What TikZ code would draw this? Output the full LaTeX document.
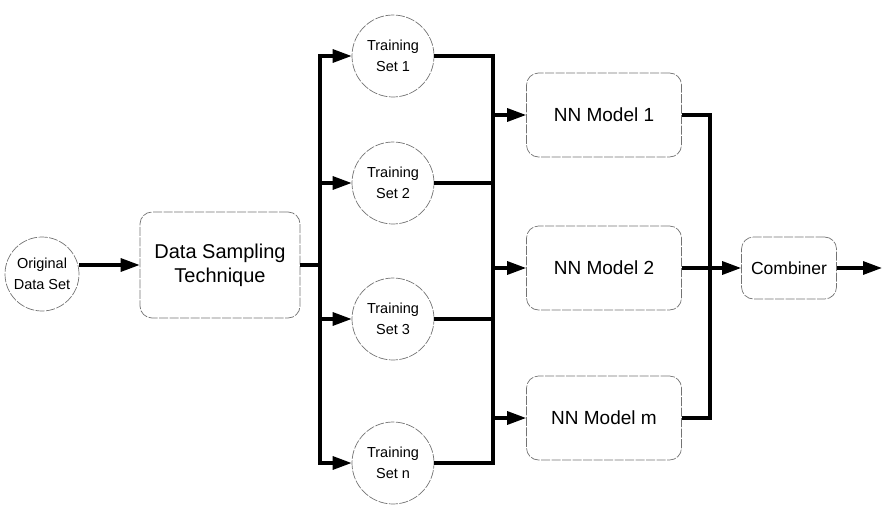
\documentclass[tikz,border=0pt]{standalone}
\usepackage{fontspec}
\setmainfont{Liberation Sans}
\usetikzlibrary{arrows.meta}
\begin{document}
\begin{tikzpicture}[x=1pt,y=-1pt,
  circ/.style={circle, draw=black!55, line width=0.7pt, dash pattern=on 9pt off 1.5pt, minimum size=82pt, align=center, inner sep=0pt, font=\fontsize{14.5}{21}\selectfont},
  box/.style={rectangle, rounded corners=12pt, draw=black!55, line width=0.7pt, dash pattern=on 9pt off 1.5pt, align=center, font=\fontsize{19}{24}\selectfont},
  ln/.style={line width=3.2pt, line join=miter},
  conn/.style={ln, -{Triangle[length=19pt,width=13pt]}}]
\useasboundingbox (0,0) rectangle (882,514);
\node[circ, minimum size=74pt] (orig) at (42,274) {Original\\Data Set};
\node[box, minimum width=160pt, minimum height=106pt, font=\fontsize{20}{24}\selectfont] (dst) at (220,265) {Data Sampling\\Technique};
\node[circ] (t1) at (393,56) {Training\\Set 1};
\node[circ] (t2) at (393,183) {Training\\Set 2};
\node[circ] (t3) at (393,319) {Training\\Set 3};
\node[circ] (tn) at (393,463) {Training\\Set n};
\node[box, minimum width=155pt, minimum height=84pt] (m1) at (604,115) {NN Model 1};
\node[box, minimum width=155pt, minimum height=84pt] (m2) at (604,268) {NN Model 2};
\node[box, minimum width=155pt, minimum height=84pt] (m3) at (604,418) {NN Model m};
\node[box, minimum width=95pt, minimum height=62pt, font=\fontsize{17.5}{21}\selectfont] (comb) at (789,268) {Combiner};
\coordinate (sp) at (320,265);
\coordinate (cl) at (493,0);
\coordinate (cr) at (710,0);
\coordinate (out) at (882,268);
% orig to sampling
\draw[conn] (orig.east |- dst.west) -- (dst.west);
% split
\draw[ln] (dst.east) -- (sp);
\draw[conn] (sp) |- (t1.west);
\draw[conn] (sp) |- (t2.west);
\draw[conn] (sp) |- (t3.west);
\draw[conn] (sp) |- (tn.west);
% collect
\draw[ln] (t1.east) -| (cl |- tn.east) -- (tn.east);
\draw[ln] (t2.east) -- (cl |- t2.east);
\draw[ln] (t3.east) -- (cl |- t3.east);
\draw[conn] (cl |- m1.west) -- (m1.west);
\draw[conn] (cl |- m2.west) -- (m2.west);
\draw[conn] (cl |- m3.west) -- (m3.west);
% models to combiner
\draw[ln] (m1.east) -| (cr |- m3.east) -- (m3.east);
\draw[conn] (m2.east) -- (comb.west);
\draw[conn] (comb.east) -- (out);
\end{tikzpicture}
\end{document}
